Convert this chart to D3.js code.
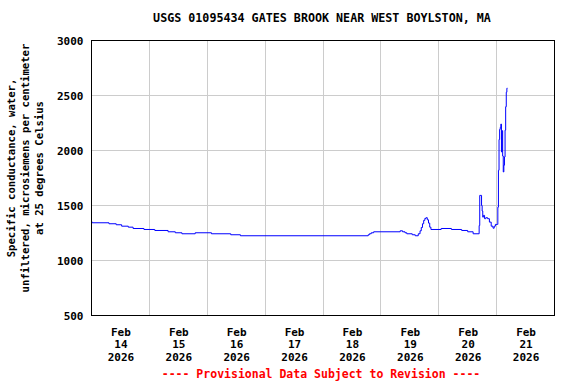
<!DOCTYPE html>
<html>
<head>
<meta charset="utf-8">
<script src="https://cdn.jsdelivr.net/npm/d3@7"></script>
<style>
  body { margin: 0; background: #fff; }
  svg text { font-family: "DejaVu Sans Mono", monospace; font-weight: bold; }
</style>
</head>
<body>
<div class="chart"></div>
<script>
// readings, 15-minute data, values where the trace changes level
const times = [
  "2026-02-14 00:00", "2026-02-14 00:15", "2026-02-14 07:15", "2026-02-14 10:15",
  "2026-02-14 12:30", "2026-02-14 15:15", "2026-02-14 17:15", "2026-02-14 21:45",
  "2026-02-15 02:15", "2026-02-15 07:45", "2026-02-15 10:45", "2026-02-15 13:30",
  "2026-02-15 19:00", "2026-02-16 01:45", "2026-02-16 09:45", "2026-02-16 13:45",
  "2026-02-18 18:45", "2026-02-18 19:15", "2026-02-18 20:00", "2026-02-18 21:00",
  "2026-02-19 08:00", "2026-02-19 09:00", "2026-02-19 10:00", "2026-02-19 10:45",
  "2026-02-19 13:00", "2026-02-19 14:15", "2026-02-19 15:30", "2026-02-19 16:15",
  "2026-02-19 16:45", "2026-02-19 17:15", "2026-02-19 17:45", "2026-02-19 18:15",
  "2026-02-19 18:45", "2026-02-19 19:15", "2026-02-19 19:45", "2026-02-19 20:15",
  "2026-02-19 20:45", "2026-02-20 01:00", "2026-02-20 05:15", "2026-02-20 09:30",
  "2026-02-20 12:00", "2026-02-20 14:15", "2026-02-20 16:45", "2026-02-20 17:00",
  "2026-02-20 17:30", "2026-02-20 17:45", "2026-02-20 18:00", "2026-02-20 18:15",
  "2026-02-20 18:30", "2026-02-20 19:00", "2026-02-20 19:30", "2026-02-20 20:15",
  "2026-02-20 21:00", "2026-02-20 21:45", "2026-02-20 22:30", "2026-02-20 23:00",
  "2026-02-20 23:30", "2026-02-21 00:15", "2026-02-21 00:30", "2026-02-21 00:45",
  "2026-02-21 01:00", "2026-02-21 01:15", "2026-02-21 01:30", "2026-02-21 01:45",
  "2026-02-21 02:00", "2026-02-21 02:15", "2026-02-21 02:30", "2026-02-21 02:45",
  "2026-02-21 03:00", "2026-02-21 03:15", "2026-02-21 03:30", "2026-02-21 03:45",
  "2026-02-21 04:00", "2026-02-21 04:15", "2026-02-21 04:30"
];
const conductance = [
  1352, 1343, 1334, 1325,
  1312, 1303, 1291, 1282,
  1273, 1261, 1252, 1243,
  1252, 1243, 1234, 1225,
  1234, 1243, 1252, 1261,
  1270, 1261, 1252, 1243,
  1234, 1225, 1243, 1270,
  1300, 1334, 1365, 1383,
  1389, 1370, 1340, 1303,
  1282, 1291, 1282, 1273,
  1261, 1243, 1318, 1592,
  1592, 1500, 1450, 1394,
  1410, 1380, 1389, 1380,
  1349, 1312, 1294, 1312,
  1328, 1328, 1485, 1820,
  2100, 2192, 2210, 2240,
  1987, 2180, 1950, 1805,
  1866, 1942, 2185, 2398,
  2530, 2566, 2566
];
const yTicks = [500, 1000, 1500, 2000, 2500, 3000];
const dayLabels = ["14", "15", "16", "17", "18", "19", "20", "21"];
const monthLabel = "Feb";
const yearLabel = "2026";
const title = "USGS 01095434 GATES BROOK NEAR WEST BOYLSTON, MA";
const yLabelLines = ["Specific conductance, water,", "unfiltered, microsiemens per centimeter", "at 25 degrees Celsius"];
const footer = "---- Provisional Data Subject to Revision ----";

const parse = d3.timeParse("%Y-%m-%d %H:%M");
const data = times.map((t, i) => ({date: parse(t), value: conductance[i]}));

const W = 576, H = 384;
const plot = {left: 91.5, right: 554.5, top: 40.5, bottom: 315.5};

const svg = d3.select(".chart").append("svg")
  .attr("width", W).attr("height", H);

const x = d3.scaleTime()
  .domain([parse("2026-02-14 00:00"), parse("2026-02-22 00:00")])
  .range([plot.left, plot.right]);
const y = d3.scaleLinear()
  .domain([500, 3000])
  .range([plot.bottom, plot.top]);

// grid
const midnights = d3.timeDay.range(parse("2026-02-15 00:00"), parse("2026-02-22 00:00"));
svg.append("g").selectAll("line").data(midnights).join("line")
  .attr("x1", d => Math.round(x(d) - 0.5) + 0.5).attr("x2", d => Math.round(x(d) - 0.5) + 0.5)
  .attr("y1", plot.top).attr("y2", plot.bottom)
  .attr("stroke", "#cccccc");
svg.append("g").selectAll("line").data(yTicks.slice(1, -1)).join("line")
  .attr("x1", plot.left).attr("x2", plot.right)
  .attr("y1", d => Math.round(y(d) - 0.5) + 0.5).attr("y2", d => Math.round(y(d) - 0.5) + 0.5)
  .attr("stroke", "#cccccc");

// data line
const line = d3.line()
  .x(d => x(d.date))
  .y(d => y(d.value))
  .curve(d3.curveStepAfter);
svg.append("path").datum(data)
  .attr("d", line)
  .attr("fill", "none")
  .attr("stroke", "#0000ff")
  .attr("stroke-width", 1);

// frame
svg.append("rect")
  .attr("x", plot.left).attr("y", plot.top)
  .attr("width", plot.right - plot.left).attr("height", plot.bottom - plot.top)
  .attr("fill", "none").attr("stroke", "#000");

// y axis
const yAxis = svg.append("g")
  .attr("transform", `translate(${plot.left},0)`)
  .call(d3.axisLeft(y).tickValues(yTicks).tickSize(0).tickPadding(8).tickFormat(d3.format("d")));
yAxis.select(".domain").remove();
yAxis.selectAll("text").attr("font-size", "11px").attr("fill", "#000")
  .attr("font-family", "DejaVu Sans Mono").attr("font-weight", "bold");

// x axis: labels at noon of each day
const noons = dayLabels.map(d => parse(`2026-02-${d} 12:00`));
const xAxis = svg.append("g")
  .attr("transform", `translate(0,${plot.bottom})`)
  .call(d3.axisBottom(x).tickValues(noons).tickSize(0).tickFormat(""));
xAxis.select(".domain").remove();
xAxis.selectAll(".tick text").each(function(d, i) {
  const t = d3.select(this).attr("y", 0).attr("dy", null)
    .attr("font-size", "11px").attr("fill", "#000")
    .attr("font-family", "DejaVu Sans Mono").attr("font-weight", "bold");
  [monthLabel, dayLabels[i], yearLabel].forEach((s, k) => {
    t.append("tspan").attr("x", 0).attr("y", 20 + k * 12.5).text(s);
  });
});

// title
svg.append("text")
  .attr("x", 322).attr("y", 22)
  .attr("text-anchor", "middle").attr("font-size", "11.7px")
  .text(title);

// y label
const yl = svg.append("g")
  .attr("transform", `translate(0,168) rotate(-90)`);
yLabelLines.forEach((s, k) => {
  yl.append("text")
    .attr("x", 0).attr("y", 14.5 + k * 14.3)
    .attr("text-anchor", "middle").attr("font-size", "10.6px")
    .text(s);
});

// footer
svg.append("text")
  .attr("x", 321).attr("y", 378)
  .attr("text-anchor", "middle").attr("font-size", "11.5px")
  .attr("fill", "#ff0000")
  .text(footer);
</script>
</body>
</html>
